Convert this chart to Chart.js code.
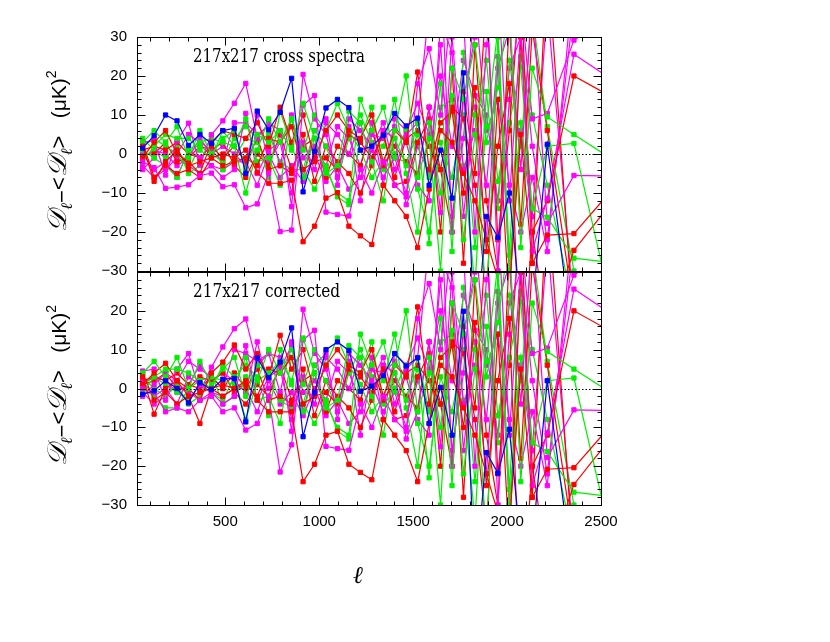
<!DOCTYPE html>
<html>
<head>
<meta charset="utf-8">
<script src="https://cdn.jsdelivr.net/npm/chart.js@4.4.1/dist/chart.umd.min.js"></script>
<style>
  body { margin: 0; background: #fff; }
  #wrap { position: relative; width: 830px; height: 642px; background: #fff; }
  canvas { position: absolute; left: 0; }
  #topChart { top: 0; }
  #botChart { top: 253px; }
</style>
</head>
<body>
<div id="wrap">
  <canvas id="topChart" width="830" height="290"></canvas>
  <canvas id="botChart" width="830" height="389"></canvas>
</div>
<script>
// multipole bin centres
const ells = [60, 121, 182, 243, 304, 365, 426, 487, 548, 609,
  670, 731, 792, 853, 914, 975, 1036, 1097, 1158, 1219,
  1280, 1341, 1402, 1463, 1524, 1585, 1646, 1707, 1768, 1829,
  1890, 1951, 2012, 2073, 2134, 2214, 2356, 2580];

// tick labels
const xTicks = [500, 1000, 1500, 2000, 2500];
const yTicksTop = [30, 20, 10, 0, -10, -20, -30];
const yTicksBot = [20, 10, 0, -10, -20, -30];

// ---- 217x217 cross spectra (top) ----
const blueTop = [1.5, 4.7, 10, 8.5, 2.2, 5, 2.7, 6, 6.6, -5,
  11, 6.2, 10.7, 19.4, -9.7, 0.7, 11.8, 14, 11.9, 1,
  2, 4.8, 10.4, 7.2, 9.2, -8, 1, -11.3, 20.8, -50,
  -16, -21.4, -10, -40, -40, 2.5, -50, -40];
const red1Top = [2, -7, -2, 1, -3, -2, -1, 0, -1, 1,
  -4.7, -7.5, -7.5, -6.7, -22.5, -18.5, -11.3, -9.9, -18.5, -21,
  -23.2, -8, -12, -16, -24, -9, 6, 3, -5, -12,
  -22, -32, -35, 5, -28, -20.8, -20.4, -8];
const red2Top = [-1, 3, 6, 0, -2, -5, 3, 6, 5, 4,
  8, 2, 12, 3, 10, -1, 6, 10, 6, 4,
  10, -2, 6, 3, 21, -4, 8, 11, -10, 17,
  -25, 2, 18, -60, -20, -12, 20, 14];
const red3Top = [3, -6, -3, -5, -4, -6, -1, -3, -2, -1,
  -3, 4, 3, 7, -4, -2, -1, -4, 5, 3,
  -1, 5, -6, 4, 6, 2, -4, 12, 9, -8,
  -36, 14, -40, 30, -20, -45, -24.7, -11];
const red4Top = [1, 2, 1, 3, 0, -1, 2, -1, 2, -2,
  4, -4, -3, -5, 5, -7, 2, -2, -5, -10,
  -3, 6, -8, -7, 3, 9, -4, -20, 16, -5,
  40, -22, 6, 45, -28, 50, -45, -60];
const red5Top = [0, 0, 3, -2, -1, 2, 1, 3, -3, -6,
  0, -3, 5, -4, 2, 4, -6, 2, 0, -3,
  6, -3, 2, -2, -5, 12, -20, 22, -28, 28,
  -12, -30, 35, -18, 32, 6, -40, -50];
const green1Top = [3, 6, 3, 7, -1, 6, 0, 4, 6, -4,
  5, 3, 6, 1, 13, 4, -5, -3, 11, 8,
  -2, -12, 6, 20, -6, 4, -30, 22, 14, 28,
  3, 17, 40, -24, 22, 9.5, 5, -2];
const green2Top = [-2, 2, 5, 4, 4, 1, -1, 6, 2, -10,
  1, 9, 3, 9, 1, 10, 6, 13, 6, 1,
  -6, -2, 4, -3, 8, -6, 18, -25, 26, 10,
  -40, 30, -30, 8, -14, 2, 2.7, -44];
const green3Top = [1, -1, -3, -6, 1, 3, 4, 3, 2, 9,
  -2, -1, -8, 9, -4, 6, 2, -6, 4, 10,
  3, 2, 14, -5, -20, 8, -10, 15, -22, 5,
  24, -7, 8, 22.3, -14, -16.2, -26.7, -28];
const green4Top = [2, 4, 2, 0, -4, 2, 0, -2, 4, 7,
  4, -6, 11, 2, -6, 4, -4, -10, -12, 14,
  6, 12, 0, 6, -9, -20, 3, -6, 10, -24,
  7, 32, -26, 25, 10, -8, -40, -45];
const green5Top = [4, 1, -1, 2, -5, -3, 5, -4, -1, 4,
  3, 5, -2, -4, -4, -9, -3, -11, -13, 4,
  12, -4, -1, -2, 5, -23, 12, 14, -3, -34,
  16, -14, 24, 2, 36, 7, -30, -60];
const mag1Top = [-2, -3.5, -8.8, -8.5, -7.9, -5.5, -4.9, -8.4, -7.9, -13.8,
  -12.8, -4.9, -19.9, -19.5, 12.5, 15, -14.9, -15.5, -15.9, -4,
  -10, -2, -8, -11, 18, 27, 10, 40, 35, -20,
  28, 45, -12, 32, -25, -11.4, 25.6, 18.4];
const mag2Top = [3, 3.4, -5.4, 3.4, 7.9, -2.8, 4.9, 8.5, 13, 18.1,
  4, 8, 6, -13.5, 20.4, 9, 5, -6, 9, 6,
  2, 8, -4, 5, 8, 38, 50, -20, 14, 30,
  45, -30, 14, 40, 9, 10.4, 29.2, 36];
const mag3Top = [0, -4, -2, -6, 1, -1, -3, -6, -4, 10.4,
  -5, 1, 3, -10, 3, -4, 8, 5, 0, 8,
  -2, 6, 4, -13, -6, 12, -15, 30, -4, 6,
  -22, 22, 32, -4, 40, -17.8, -5.5, -5.7];
const mag4Top = [-4, -1, 2, 0, 5, 3, 1, -2, 8, 8,
  5, 7, -3, 10, -6, 6, 9, -8, 7, -12,
  5, 4, 7, 3, -8, -12, 34, 26, -16, 12,
  -8, 25, -30, 6, -16, 38, -40, -45];
const mag5Top = [-1, 1, 0, -3, -1, 4, 0, 2, 0, -3,
  10, -2, 3, 9, -1, 2, -3, 7, 4, -3,
  8, -8, 9, 6, 13, 5, 20, 2, 24, 15,
  10, -12, 22, 30, 2, -22, 38, 40];
const mag6Top = [-3, -6, -4, -1, -3, -5, -3, -4, -2, -2,
  -8, 0, -6, -3, -7, 0, -7, -3, -9, -6,
  1, -6, -1, -10, 2, -5, 28, -16, 4, 40,
  6, 14, -8, -20, -6, -25, 45, 50];

// ---- 217x217 corrected (bottom) ----
const blueBot = [-1.5, -0.6, 2, 0, -3.7, 1.5, -0.3, 2.4, 2.6, -8.6,
  7.9, 2.8, 6.8, 15.6, -12.4, -1.1, 10, 12, 9.8, -0.7,
  0.6, 3.3, 9, 5.8, 7.9, -9, 0.3, -12, 19.9, -50,
  -16.5, -21.8, -10.5, -40, -40, 2, -50, -40];
const red1Bot = [3, -6.6, 0, 2, -2, -1, 0, 1, 0, 2,
  -3, -6, -6, -6, -24, -19.5, -12, -11, -19.5, -21.6,
  -23.5, -8, -12, -16, -24, -9, 6, 3, -5, -12,
  -22, -32, -35, 5, -28, -20.8, -20.4, -8];
const red2Bot = [1, 4, 6.5, 2, 0, -3, 4, 6.8, 11.2, 5,
  9, 3, 13.7, 5, 10, -1, 6, 10, 6, 4,
  10, -2, 6, 3, 21, -4, 8, 11, -10, 17,
  -25, 2, 18, -60, -20, -12, 20, 14];
const red3Bot = [4, -3, -1, -4, -2, -9, 0, -2, 0, 1,
  -2, 5, 4, 8, -4, -2, -1, -4, 5, 3,
  -1, 5, -6, 4, 6, 2, -4, 12, 9, -8,
  -36, 14, -40, 30, -20, -45, -24.7, -11];
const red4Bot = [2, 3, 2, 4, 1, 0, 3, 0, 4, 0,
  5, -3, -2, -4, 5, -7, 2, -2, -5, -10,
  -3, 6, -8, -7, 3, 9, -4, -20, 16, -5,
  40, -22, 6, 45, -28, 50, -45, -60];
const red5Bot = [1, 2, 4, 0, 0, 3, 2, 4, -1, -4,
  1, -2, 6, -3, 2, 4, -6, 2, 0, -3,
  6, -3, 2, -2, -5, 12, -20, 22, -28, 28,
  -12, -30, 35, -18, 32, 6, -40, -50];
const green1Bot = [4, 7, 3, 8, 0, 7, 1, 5, 8, -2,
  6, 4, 7, 2, 13, 4, -5, -3, 11, 8,
  -2, -12, 6, 20, -6, 4, -30, 22, 14, 28,
  3, 17, 40, -24, 22, 9.5, 5, -2];
const green2Bot = [-1, 3, 5, 5, 4, 2, 0, 6, 3, -8,
  2, 10, 4, 10, 1, 10, 6, 13, 6, 1,
  -6, -2, 4, -3, 8, -6, 18, -25, 26, 10,
  -40, 30, -30, 8, -14, 2, 2.7, -44];
const green3Bot = [0, -2, -5, -5, 0, 2, 3, 2, 1, 8,
  -3, -2, -9, 8, -4, 6, 2, -6, 4, 10,
  3, 2, 14, -5, -20, 8, -10, 15, -22, 5,
  24, -7, 8, 22.3, -14, -16.2, -26.7, -28];
const green4Bot = [1, 3, 1, -1, -3, 1, -1, -3, 3, 6,
  3, -7, 10, 1, -6, 4, -4, -10, -12, 14,
  6, 12, 0, 6, -9, -20, 3, -6, 10, -24,
  7, 32, -26, 25, 10, -8, -40, -45];
const green5Bot = [3, 0, -2, 1, -4, -2, 4, -4, -2, 3,
  2, 4, -3, -5, -4, -9, -3, -11, -13, 4,
  12, -4, -1, -2, 5, -23, 12, 14, -3, -34,
  16, -14, 24, 2, 36, 7, -30, -60];
const mag1Bot = [0, -1, -6, -5, -6, -3, -2, -6, -5, -10.7,
  -9, -2, -21.5, -14.5, 12.5, 15, -14.9, -15.5, -15.9, -4,
  -10, -2, -8, -11, 18, 27, 10, 40, 35, -20,
  28, 45, -12, 32, -25, -11.4, 25.6, 18.4];
const mag2Bot = [4.5, 5, -3, 5, 9, -1, 5.5, 10.7, 15.4, 17.9,
  6, 9, 8, -11, 20.4, 9, 5, -6, 9, 6,
  2, 8, -4, 5, 8, 38, 50, -20, 14, 30,
  45, -30, 14, 40, 9, 10.4, 29.2, 36];
const mag3Bot = [2, -2, 0, -4, 3, 1, -1, -4, -2, 11,
  -3, 3, 5, -8, 3, -4, 8, 5, 0, 8,
  -2, 6, 4, -13, -6, 12, -15, 30, -4, 6,
  -22, 22, 32, -4, 40, -17.8, -5.5, -5.7];
const mag4Bot = [-2, 1, 4, 2, 7, 5, 3, 0, 10, 9,
  7, 9, -1, 12, -6, 6, 9, -8, 7, -12,
  5, 4, 7, 3, -8, -12, 34, 26, -16, 12,
  -8, 25, -30, 6, -16, 38, -40, -45];
const mag5Bot = [1, 3, 2, -1, 1, 6, 2, 4, 2, -1,
  12, 0, 5, 11, -1, 2, -3, 7, 4, -3,
  8, -8, 9, 6, 13, 5, 20, 2, 24, 15,
  10, -12, 22, 30, 2, -22, 38, 40];
const mag6Bot = [-1, -4, -2, 1, -1, -3, -1, -2, 0, 0,
  -6, 2, -4, -1, -7, 0, -7, -3, -9, -6,
  1, -6, -1, -10, 2, -5, 28, -16, 4, 40,
  6, 14, -8, -20, -6, -25, 45, 50];

const BLUE = '#0000ff', RED = '#ff0000', GREEN = '#00f000', MAGENTA = '#ff00ff';

function makeSets(list) {
  return list.map(([vals, color]) => ({
    data: ells.map((l, i) => ({ x: l, y: vals[i] })),
    borderColor: color,
    backgroundColor: color,
    borderWidth: 1.2,
    pointStyle: 'rect',
    pointRadius: 3,
    pointBorderWidth: 1,
    tension: 0,
    fill: false
  }));
}

const fmt = v => (v < 0 ? '\u2212' + Math.abs(v) : String(v));

// draws a rotated title piece by piece (subscripts / superscript)
function drawYTitle(ctx, cx, cy) {
  const serif = '"DejaVu Serif", "Liberation Serif", serif';
  const sans = '"Liberation Sans", "DejaVu Sans", sans-serif';
  const parts = [
    { t: '\u{1D49F}', f: `italic 27px ${serif}`, dy: 0 },
    { t: '\u2113', f: `italic 16px ${serif}`, dy: 6 },
    { t: '\u2212', f: `22px ${sans}`, dy: 3 },
    { t: '<', f: `22px ${sans}`, dy: 0 },
    { t: '\u{1D49F}', f: `italic 27px ${serif}`, dy: 0 },
    { t: '\u2113', f: `italic 16px ${serif}`, dy: 6 },
    { t: '>', f: `22px ${sans}`, dy: 0 },
    { t: '   (\u03BCK)', f: `21px ${sans}`, dy: 0 },
    { t: '2', f: `14px ${sans}`, dy: -10 }
  ];
  ctx.save();
  ctx.translate(cx, cy);
  ctx.rotate(-Math.PI / 2);
  ctx.fillStyle = '#000';
  ctx.textBaseline = 'alphabetic';
  ctx.textAlign = 'left';
  let total = 0;
  parts.forEach(p => { ctx.font = p.f; p.w = ctx.measureText(p.t).width; total += p.w; });
  let x = -total / 2;
  parts.forEach(p => { ctx.font = p.f; ctx.fillText(p.t, x, p.dy); x += p.w; });
  ctx.restore();
}

function panelPlugin(label, labelWidth, showXTitle) {
  return {
    id: 'panel',
    afterDatasetsDraw(chart) {
      const { ctx, chartArea: a, scales: { x, y } } = chart;
      const L = Math.round(a.left) + 0.5, R = Math.round(a.right) + 0.5;
      const T = Math.round(a.top) + 0.5, B = Math.round(a.bottom) + 0.5;
      ctx.save();
      // dotted zero line
      const y0 = Math.round(y.getPixelForValue(0)) + 0.5;
      ctx.strokeStyle = '#000';
      ctx.lineWidth = 1.2;
      ctx.setLineDash([1.5, 2]);
      ctx.beginPath(); ctx.moveTo(L, y0); ctx.lineTo(R, y0); ctx.stroke();
      ctx.setLineDash([]);
      // frame
      ctx.lineWidth = 1;
      ctx.strokeRect(L, T, R - L, B - T);
      // inward ticks on all four sides
      ctx.beginPath();
      for (let v = -30; v <= 30; v += 2) {
        const py = Math.round(y.getPixelForValue(v)) + 0.5;
        const len = v % 10 === 0 ? 8 : 4;
        ctx.moveTo(L, py); ctx.lineTo(L + len, py);
        ctx.moveTo(R, py); ctx.lineTo(R - len, py);
      }
      for (let v = 100; v <= 2500; v += 100) {
        const px = Math.round(x.getPixelForValue(v)) + 0.5;
        const len = v % 500 === 0 ? 8 : 4;
        ctx.moveTo(px, B); ctx.lineTo(px, B - len);
        ctx.moveTo(px, T); ctx.lineTo(px, T + len);
      }
      ctx.stroke();
      // panel label
      ctx.fillStyle = '#000';
      ctx.font = '18px "DejaVu Serif", serif';
      ctx.textAlign = 'left';
      ctx.textBaseline = 'alphabetic';
      ctx.fillText(label, a.left + 56, a.top + 25, labelWidth);
      // y title
      drawYTitle(ctx, 66, (a.top + a.bottom) / 2 - 3);
      // x title
      if (showXTitle) {
        ctx.font = 'italic 24px "DejaVu Serif", serif';
        ctx.textAlign = 'center';
        ctx.fillText('\u2113', 358, a.bottom + 78);
      }
      ctx.restore();
    }
  };
}

function makeChart(id, sets, yTicks, opts) {
  return new Chart(document.getElementById(id), {
    type: 'line',
    data: { datasets: makeSets(sets) },
    options: {
      responsive: false,
      animation: false,
      devicePixelRatio: 1,
      layout: { padding: opts.padding },
      plugins: { legend: { display: false }, tooltip: { enabled: false } },
      scales: {
        x: {
          type: 'linear', min: 30, max: 2500,
          display: opts.showX,
          grid: { display: false, drawTicks: false },
          border: { display: false },
          afterBuildTicks: s => { s.ticks = xTicks.map(v => ({ value: v })); },
          afterFit: s => { if (opts.showX) s.height = 137; },
          ticks: {
            autoSkip: false, maxRotation: 0, padding: 8, color: '#000',
            font: { family: '"Liberation Sans", Arial, sans-serif', size: 15 },
            callback: v => String(v)
          }
        },
        y: {
          min: -30, max: 30,
          grid: { display: false, drawTicks: false },
          border: { display: false },
          afterBuildTicks: s => { s.ticks = yTicks.map(v => ({ value: v })); },
          afterFit: s => { s.width = 137; },
          ticks: {
            padding: 10, color: '#000',
            font: { family: '"Liberation Sans", Arial, sans-serif', size: 15 },
            callback: v => fmt(v)
          }
        }
      }
    },
    plugins: [panelPlugin(opts.label, opts.labelWidth, opts.showX)]
  });
}

makeChart('topChart', [
  [blueTop, BLUE], [red1Top, RED], [green1Top, GREEN], [mag1Top, MAGENTA],
  [red2Top, RED], [green2Top, GREEN], [mag2Top, MAGENTA],
  [red3Top, RED], [green3Top, GREEN], [mag3Top, MAGENTA],
  [red4Top, RED], [green4Top, GREEN], [mag4Top, MAGENTA],
  [red5Top, RED], [green5Top, GREEN], [mag5Top, MAGENTA], [mag6Top, MAGENTA]
], yTicksTop, {
  padding: { top: 37, right: 229, bottom: 19, left: 0 },
  showX: false, label: '217x217 cross spectra', labelWidth: 172
});

makeChart('botChart', [
  [blueBot, BLUE], [red1Bot, RED], [green1Bot, GREEN], [mag1Bot, MAGENTA],
  [red2Bot, RED], [green2Bot, GREEN], [mag2Bot, MAGENTA],
  [red3Bot, RED], [green3Bot, GREEN], [mag3Bot, MAGENTA],
  [red4Bot, RED], [green4Bot, GREEN], [mag4Bot, MAGENTA],
  [red5Bot, RED], [green5Bot, GREEN], [mag5Bot, MAGENTA], [mag6Bot, MAGENTA]
], yTicksBot, {
  padding: { top: 9, right: 229, bottom: 0, left: 0 },
  showX: true, label: '217x217 corrected', labelWidth: 147
});
</script>
</body>
</html>
